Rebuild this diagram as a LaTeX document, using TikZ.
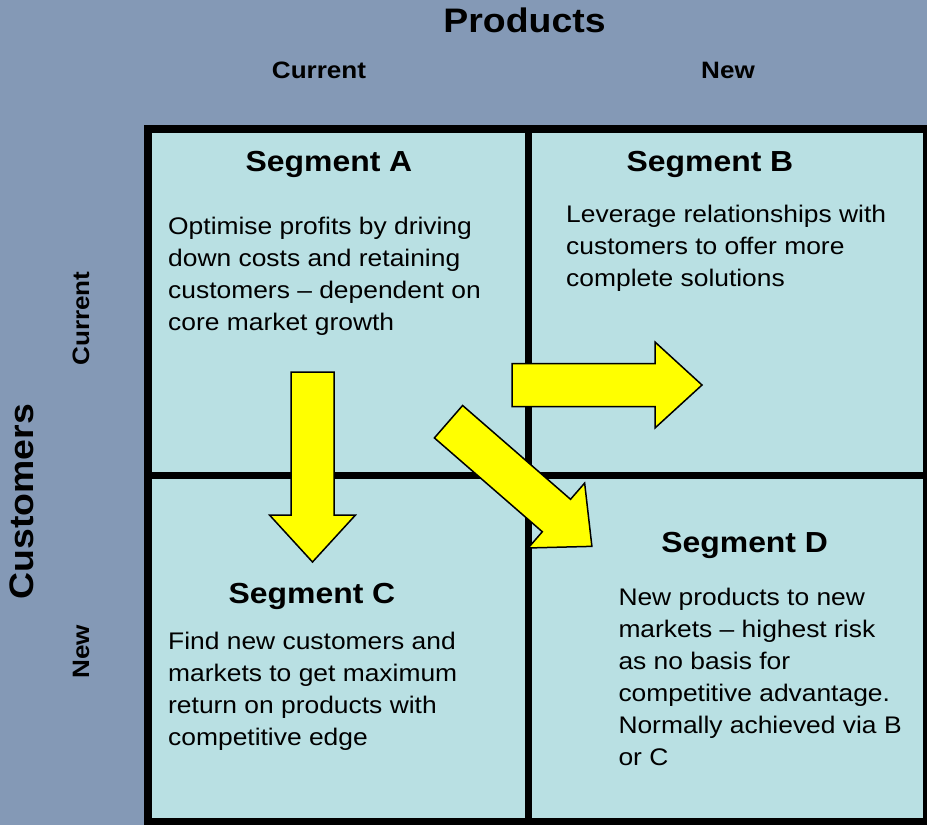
\documentclass[tikz,border=0pt]{standalone}
\usepackage{fontspec}
\setmainfont{Liberation Sans}[FakeStretch=1.1]
\usetikzlibrary{calc}
\definecolor{slate}{HTML}{8499B6}
\definecolor{cell}{HTML}{B9E0E3}
\definecolor{arrowyellow}{HTML}{FFFF00}

\tikzset{
  axistitle/.style={font=\fontsize{34}{40}\selectfont\bfseries,inner sep=0pt,anchor=base},
  axislabel/.style={font=\fontsize{23.7}{28}\selectfont\bfseries,inner sep=0pt,anchor=base},
  segtitle/.style={font=\fontsize{29}{34}\selectfont\bfseries,inner sep=0pt,anchor=base},
  % base anchor sits on the last line
  segtext/.style={font=\fontsize{24}{32}\selectfont,align=left,anchor=base west,inner sep=0pt},
  pics/blockarrow/.style={code={
    \filldraw[fill=arrowyellow,draw=black,line width=1.5pt]
      (0,-21.5) -- (143,-21.5) -- (143,-43) -- (190,0) -- (143,43)
      -- (143,21.5) -- (0,21.5) -- cycle;}}
}

\begin{document}
\begin{tikzpicture}[x=1pt,y=-1pt]
  \useasboundingbox (0,0) rectangle (927,825);
  \fill[slate] (0,0) rectangle (927,825);

  % axis headings
  \node[axistitle] (products) at (524.5,32) {Products};
  \node[axislabel] (curP) at (319,78) {Current};
  \node[axislabel] (newP) at (728,78) {New};
  \node[axistitle,rotate=90] (customers) at (33,501.7) {Customers};
  \node[axislabel,rotate=90] (curC) at (89,318.5) {Current};
  \node[axislabel,rotate=90] (newC) at (89,652) {New};

  % the 2x2 grid
  \fill[cell] (148,129) rectangle (927,822);
  \draw[line width=8pt] (148,129) rectangle (926.7,822);
  \draw[line width=7.5pt] (528.5,129) -- (528.5,822);
  \draw[line width=7.5pt] (148,475.5) -- (926.7,475.5);

  % Segment A
  \node[segtitle] (titleA) at (329,171) {Segment A};
  \node[segtext] (textA) at (168,330) {Optimise profits by driving\\
    down costs and retaining\\
    customers -- dependent on\\
    core market growth};

  % Segment B
  \node[segtitle] (titleB) at (710,171) {Segment B};
  \node[segtext] (textB) at (566,286) {Leverage relationships with\\
    customers to offer more\\
    complete solutions};

  % Segment C
  \node[segtitle] (titleC) at (312,603) {Segment C};
  \node[segtext] (textC) at (168,745) {Find new customers and\\
    markets to get maximum\\
    return on products with\\
    competitive edge};

  % Segment D
  \node[segtitle] (titleD) at (744.7,552) {Segment D};
  \node[segtext] (textD) at (618.3,765) {New products to new\\
    markets -- highest risk\\
    as no basis for\\
    competitive advantage.\\
    Normally achieved via B\\
    or C};

  % growth arrows
  \pic at (512,385) {blockarrow};
  \pic[rotate=-90] at (312.5,372) {blockarrow};
  \pic[rotate=-41] at (448.5,421.7) {blockarrow};
\end{tikzpicture}
\end{document}
